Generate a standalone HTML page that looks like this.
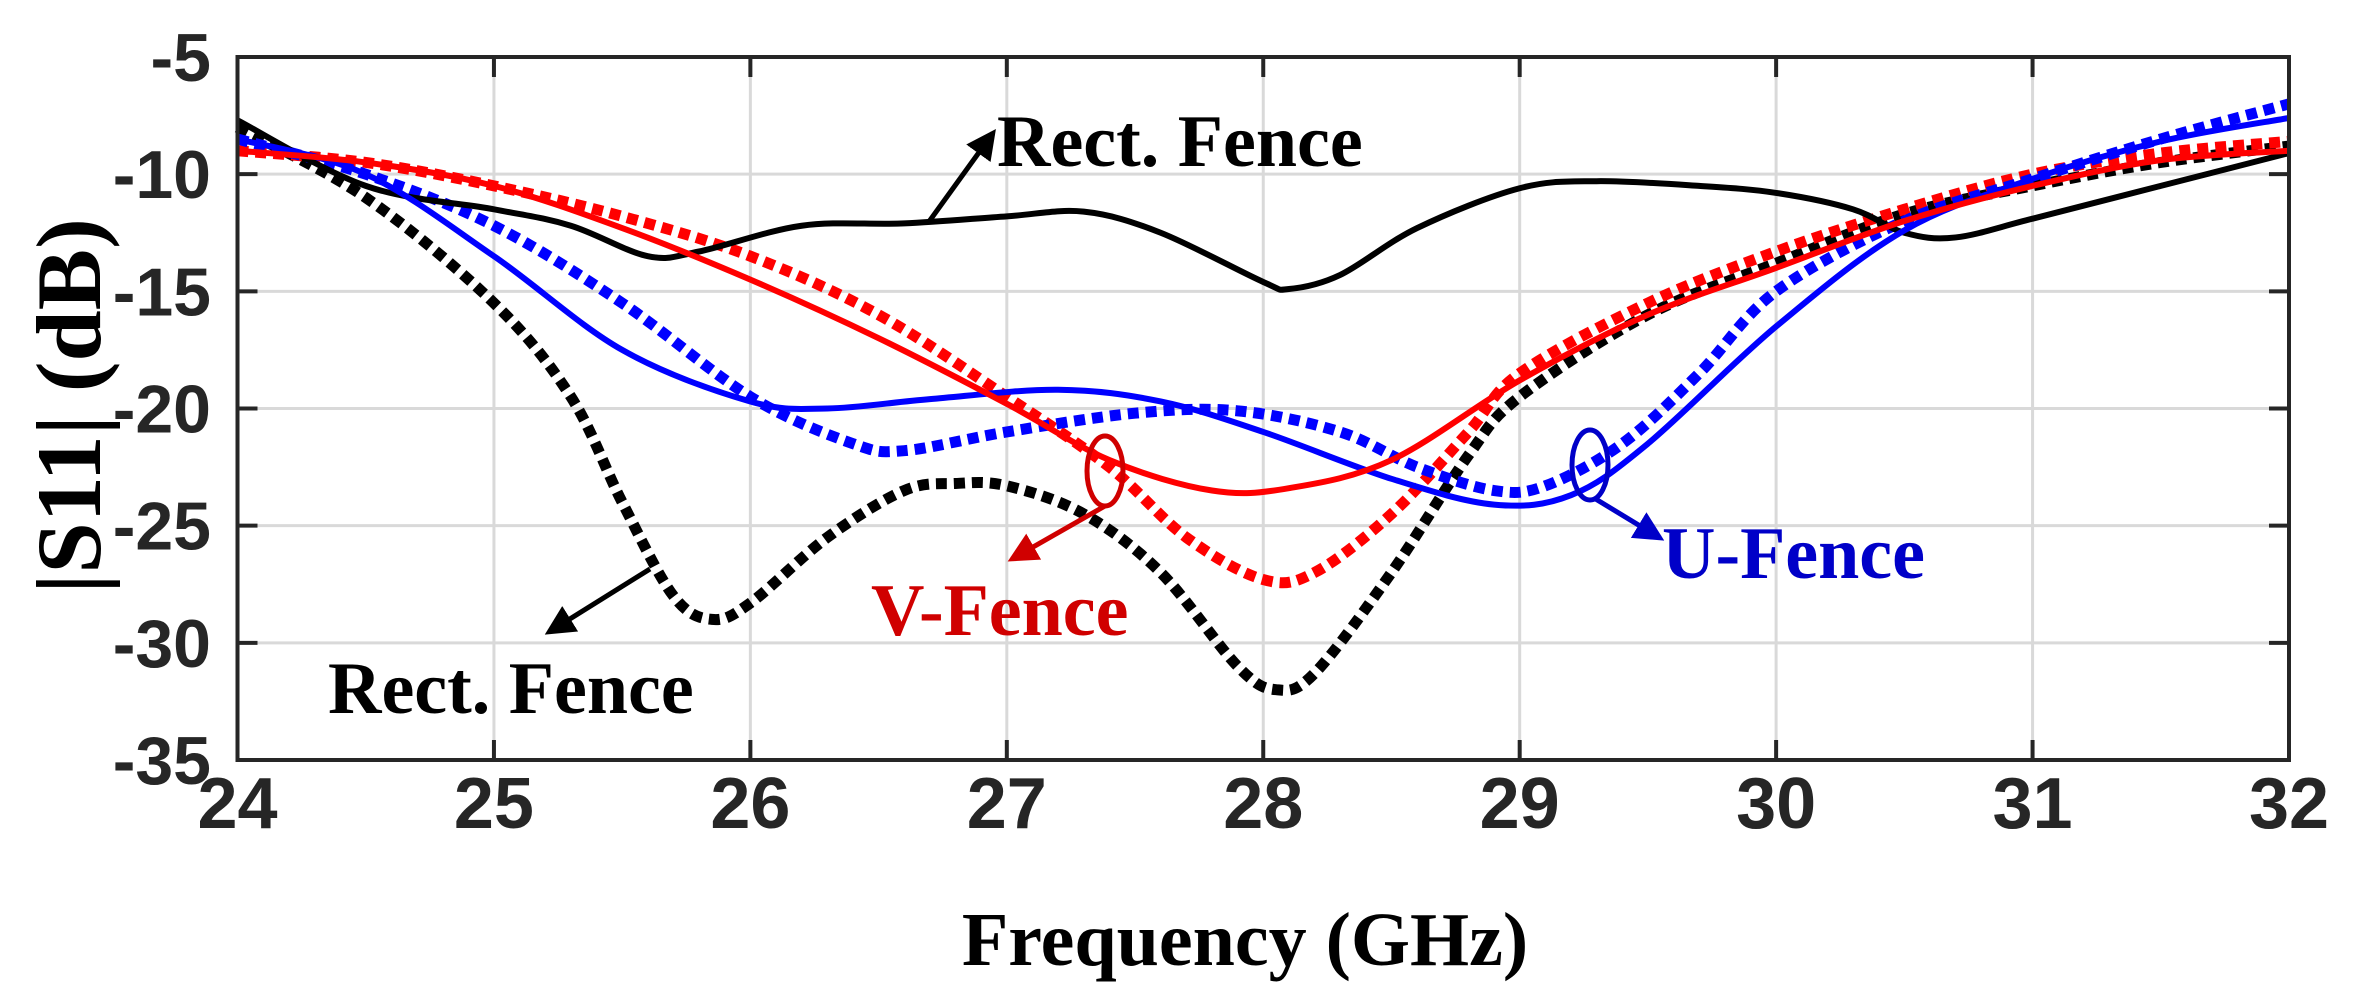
<!DOCTYPE html>
<html><head><meta charset="utf-8"><style>
html,body{margin:0;padding:0;background:#fff;}
svg{display:block;}
</style></head><body>
<svg id="chart" width="2358" height="1001" viewBox="0 0 2358 1001" xmlns="http://www.w3.org/2000/svg">
<g id="grid"></g>
<g id="series"></g>
<rect x="237.5" y="57" width="2051.5" height="703" fill="none" stroke="#262626" stroke-width="4"/>
<g id="ticks"></g>
<text x="1245" y="965" text-anchor="middle" font-family="Liberation Serif, serif" font-weight="bold" font-size="76" fill="#000">Frequency (GHz)</text>
<text transform="translate(100,406) rotate(-90)" text-anchor="middle" font-family="Liberation Serif, serif" font-weight="bold" font-size="92" fill="#000">|S11| (dB)</text>
<g font-family="Liberation Serif, serif" font-weight="bold" font-size="74">
<text x="997" y="166" fill="#000">Rect. Fence</text>
<text x="328" y="713" fill="#000">Rect. Fence</text>
<text x="871" y="635" fill="#d00000">V-Fence</text>
<text x="1662" y="578" fill="#0000c8">U-Fence</text>
</g>
<defs>
<marker id="ak" markerWidth="6" markerHeight="6" refX="5" refY="3" orient="auto" markerUnits="strokeWidth"><path d="M0,0 L6,3 L0,6 z" fill="#000"/></marker>
<marker id="ar" markerWidth="6" markerHeight="6" refX="5" refY="3" orient="auto" markerUnits="strokeWidth"><path d="M0,0 L6,3 L0,6 z" fill="#d00000"/></marker>
<marker id="ab" markerWidth="6" markerHeight="6" refX="5" refY="3" orient="auto" markerUnits="strokeWidth"><path d="M0,0 L6,3 L0,6 z" fill="#0000c8"/></marker>
</defs>
<line x1="928" y1="223" x2="993" y2="133" stroke="#000" stroke-width="5" marker-end="url(#ak)"/>
<line x1="650" y1="569" x2="549" y2="632" stroke="#000" stroke-width="5" marker-end="url(#ak)"/>
<ellipse cx="1105" cy="471" rx="18" ry="35" fill="none" stroke="#d00000" stroke-width="5"/>
<line x1="1105" y1="506" x2="1012" y2="559" stroke="#d00000" stroke-width="5" marker-end="url(#ar)"/>
<ellipse cx="1590" cy="465" rx="18" ry="35" fill="none" stroke="#0000c8" stroke-width="5"/>
<line x1="1594" y1="498" x2="1660" y2="538" stroke="#0000c8" stroke-width="5" marker-end="url(#ab)"/>
</svg>
<script>
const xTicks=[24,25,26,27,28,29,30,31,32];
const yTicks=[-5,-10,-15,-20,-25,-30,-35];
const rectSolidX=[24,24.5,25,25.3,25.6,25.8,26.2,26.6,27,27.3,27.6,28,28.1,28.3,28.6,29,29.3,29.7,30,30.3,30.5,30.7,31,31.5,32];
const rectSolidY=[-7.7,-10.5,-11.5,-12.2,-13.5,-13.3,-12.2,-12.1,-11.8,-11.6,-12.5,-14.6,-14.9,-14.3,-12.3,-10.6,-10.3,-10.5,-10.8,-11.5,-12.5,-12.7,-11.9,-10.5,-9.1];
const rectDotX=[24,24.5,25,25.3,25.5,25.7,25.85,26,26.3,26.6,26.8,27,27.3,27.6,27.9,28.05,28.2,28.5,28.8,29,29.5,30,30.5,31,31.5,32];
const rectDotY=[-8,-11,-15.5,-19.5,-24,-28,-29,-28.3,-25.5,-23.5,-23.2,-23.3,-24.5,-27,-31,-32,-31.3,-27,-22,-19.5,-16,-13.8,-11.7,-10.5,-9.5,-8.8];
const vSolidX=[24,24.5,25,25.5,26,26.5,27,27.4,27.8,28.1,28.5,29,29.5,30,30.5,31,31.5,32];
const vSolidY=[-9,-9.5,-10.5,-12.3,-14.5,-17,-19.8,-22.2,-23.5,-23.4,-22.2,-18.8,-16,-14,-12,-10.5,-9.4,-9];
const vDotX=[24,24.5,25,25.5,26,26.5,27,27.4,27.7,28,28.2,28.5,28.8,29,29.5,30,30.5,31,31.5,32];
const vDotY=[-9,-9.5,-10.5,-11.8,-13.5,-16,-19.5,-22.5,-25.5,-27.3,-27,-24.5,-21,-18.5,-15.5,-13.3,-11.5,-10,-9.1,-8.6];
const uSolidX=[24,24.5,25,25.5,26,26.3,26.7,27.2,27.6,28,28.5,28.9,29.2,29.5,30,30.5,31,31.5,32];
const uSolidY=[-8.5,-10,-13.5,-17.5,-19.7,-20,-19.6,-19.2,-19.7,-21,-23,-24.1,-23.7,-21.5,-16.5,-12.4,-10.2,-8.6,-7.6];
const uDotX=[24,24.5,25,25.5,26,26.4,26.6,27,27.5,27.9,28.3,28.6,28.9,29.1,29.4,29.7,30,30.5,31,31.5,32];
const uDotY=[-8.5,-10,-12.2,-15.5,-19.5,-21.5,-21.8,-21,-20.2,-20.1,-21,-22.5,-23.5,-23.3,-21.5,-18.5,-15,-12,-10.2,-8.5,-7];

const L=237.5,R=2289,T=57,B=760;
function xs(v){return L+(v-24)/(32-24)*(R-L);}
function ys(v){return T+(-5-v)/30*(B-T);}
const NS='http://www.w3.org/2000/svg';
const grid=document.getElementById('grid'),ticks=document.getElementById('ticks'),ser=document.getElementById('series');
function mk(tag,attrs,parent){const e=document.createElementNS(NS,tag);for(const k in attrs)e.setAttribute(k,attrs[k]);parent.appendChild(e);return e;}
xTicks.forEach(v=>{
  const x=xs(v);
  if(v>24&&v<32){
    const g=mk('line',{x1:x,x2:x,y1:T,y2:B,stroke:'#d9d9d9','stroke-width':3},grid);
    
    
    const t1=mk('line',{x1:x,x2:x,y1:B,y2:B-20,stroke:'#262626','stroke-width':4},ticks);
    
    
    const t2=mk('line',{x1:x,x2:x,y1:T,y2:T+20,stroke:'#262626','stroke-width':4},ticks);
    
    
  }
  const tx=mk('text',{x:x,y:828,'text-anchor':'middle','font-family':'Liberation Sans, sans-serif','font-weight':'bold','font-size':72,fill:'#262626'},ticks);
  tx.textContent=v;
  
  
});
yTicks.forEach(v=>{
  const y=ys(v);
  if(v<-5&&v>-35){
    const g=mk('line',{x1:L,x2:R,y1:y,y2:y,stroke:'#d9d9d9','stroke-width':3},grid);
    
    
    const t1=mk('line',{x1:L,x2:L+20,y1:y,y2:y,stroke:'#262626','stroke-width':4},ticks);
    
    
    const t2=mk('line',{x1:R,x2:R-20,y1:y,y2:y,stroke:'#262626','stroke-width':4},ticks);
    
    
  }
  const tx=mk('text',{x:211,y:y+24,'text-anchor':'end','font-family':'Liberation Sans, sans-serif','font-weight':'bold','font-size':68,fill:'#262626'},ticks);
  tx.textContent=v;
  
  
});
function pathOf(X,Y){
  const p=X.map((x,i)=>[xs(x),ys(Y[i])]);
  let d='M'+p[0][0]+','+p[0][1];
  for(let i=0;i<p.length-1;i++){
    const p0=p[Math.max(0,i-1)],p1=p[i],p2=p[i+1],p3=p[Math.min(p.length-1,i+2)];
    const c1=[p1[0]+(p2[0]-p0[0])/6,p1[1]+(p2[1]-p0[1])/6];
    const c2=[p2[0]-(p3[0]-p1[0])/6,p2[1]-(p3[1]-p1[1])/6];
    d+=' C'+c1[0]+','+c1[1]+' '+c2[0]+','+c2[1]+' '+p2[0]+','+p2[1];
  }
  return d;
}
const defs=[
 [rectDotX,rectDotY,'#000',true,'rect-fence-dotted'],
 [vDotX,vDotY,'#ff0000',true,'v-fence-dotted'],
 [uDotX,uDotY,'#0000ff',true,'u-fence-dotted'],
 [rectSolidX,rectSolidY,'#000',false,'rect-fence-solid'],
 [uSolidX,uSolidY,'#0000ff',false,'u-fence-solid'],
 [vSolidX,vSolidY,'#ff0000',false,'v-fence-solid']
];
defs.forEach(s=>{
  const a={d:pathOf(s[0],s[1]),fill:'none',stroke:s[2],'stroke-width':s[3]?11:6};
  if(s[3])a['stroke-dasharray']='11 7';
  const e=mk('path',a,ser);
  
  
});
</script>
</body></html>
